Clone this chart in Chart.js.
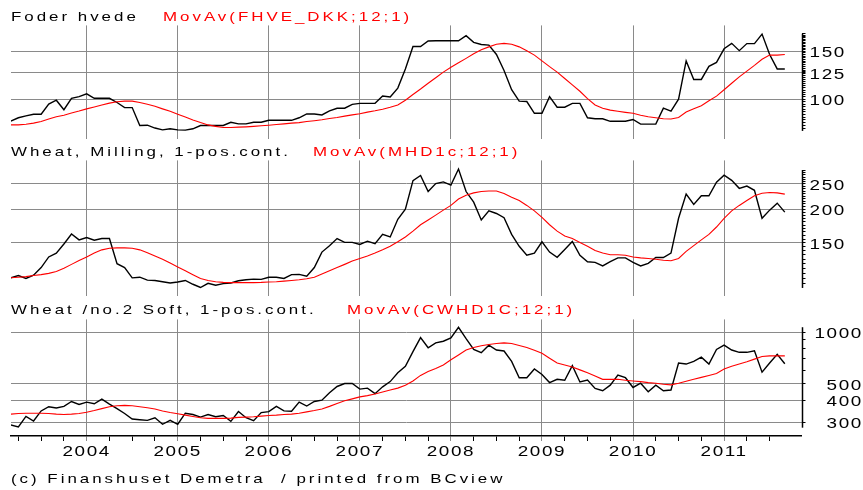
<!DOCTYPE html>
<html>
<head>
<meta charset="utf-8">
<script src="https://cdn.jsdelivr.net/npm/chart.js@4"></script>
<style>
  body { margin: 0; background: #fff; width: 863px; height: 490px; overflow: hidden; position: relative;
         font-family: "Liberation Sans", Arial, sans-serif; }
  .panel { position: absolute; left: 0; width: 863px; }
  .lbl { position: absolute; font-size: 13px; line-height: 13px; letter-spacing: 2.3px; white-space: pre; color: #000;
         z-index: 2; transform: scaleX(1.3); transform-origin: 0 0; }
  .red { color: #f00; }
</style>
</head>
<body>
<div class="panel" style="top:13px;height:138px"><canvas id="c1"></canvas></div>
<div class="panel" style="top:148px;height:160px"><canvas id="c2"></canvas></div>
<div class="panel" style="top:307px;height:183px"><canvas id="c3"></canvas></div>

<div class="lbl" style="left:11px;top:10px">Foder hvede</div>
<div class="lbl red" style="left:163px;top:10px">MovAv(FHVE_DKK;12;1)</div>
<div class="lbl" style="left:11px;top:145px">Wheat, Milling, 1-pos.cont.</div>
<div class="lbl red" style="left:313px;top:145px">MovAv(MHD1c;12;1)</div>
<div class="lbl" style="left:11px;top:303px">Wheat /no.2 Soft, 1-pos.cont.</div>
<div class="lbl red" style="left:347px;top:303px">MovAv(CWHD1C;12;1)</div>
<div class="lbl" style="left:11px;top:472px">(c) Finanshuset Demetra  / printed from BCview</div>

<script>
  // monthly points, Mar 2003 .. Sep 2011
  const months = [];
  for (let i = 0; i < 103; i++) {
      const m = 2 + i;
      months.push((2003 + Math.floor(m / 12)) + '-' + String(m % 12 + 1).padStart(2, '0'));
  }

  const foderHvede = [
      83.2, 85.5, 86.9, 88.1, 88.1, 96.0, 99.2, 91.5, 100.8, 102.2,
      104.7, 100.8, 100.8, 100.8, 97.3, 93.2, 93.2, 80.1, 80.3, 78.4,
      77.2, 77.9, 77.2, 77.0, 77.9, 80.1, 80.1, 80.1, 80.1, 82.3,
      81.2, 81.2, 82.3, 82.3, 83.7, 83.7, 83.7, 83.7, 85.5, 88.3,
      88.3, 87.6, 90.7, 92.7, 92.7, 95.8, 96.6, 96.6, 96.6, 102.7,
      101.9, 109.9, 129.2, 156.2, 156.2, 163.6, 164.0, 164.0, 164.0, 164.0,
      171.2, 161.8, 158.8, 158.0, 146.0, 127.6, 108.4, 98.4, 98.1, 88.8,
      88.8, 102.2, 93.5, 93.5, 96.6, 96.6, 85.5, 84.8, 84.8, 83.0,
      83.0, 83.0, 84.3, 81.0, 81.0, 81.0, 92.7, 90.5, 100.0, 138.3,
      118.2, 118.2, 132.1, 136.5, 153.2, 160.4, 150.8, 160.1, 160.1, 173.5,
      146.0, 129.2, 129.2
  ];
  const foderMovAv = [
      80.5, 80.5, 81.0, 81.7, 82.8, 84.6, 86.2, 87.4, 89.0, 90.5,
      92.2, 93.7, 95.3, 96.8, 97.9, 98.4, 98.4, 97.3, 95.8, 94.2,
      92.2, 90.3, 88.1, 86.0, 83.9, 82.1, 80.5, 79.5, 78.8, 78.8,
      79.0, 79.2, 79.5, 79.9, 80.3, 80.8, 81.2, 81.7, 82.1, 82.8,
      83.4, 84.1, 85.0, 85.7, 86.7, 87.6, 88.5, 89.7, 90.7, 91.9,
      93.5, 95.3, 99.2, 104.1, 109.0, 114.5, 120.0, 125.8, 131.0, 136.1,
      141.3, 146.8, 152.0, 155.7, 159.2, 160.4, 159.2, 155.7, 150.8, 145.2,
      138.3, 131.7, 125.8, 119.2, 112.9, 107.0, 100.5, 95.3, 92.7, 91.2,
      90.3, 89.5, 88.8, 87.4, 86.2, 85.5, 84.8, 84.6, 85.7, 89.7,
      92.2, 94.7, 98.7, 102.7, 108.4, 114.5, 120.8, 126.9, 133.2, 140.2,
      145.2, 145.2, 146.0
  ];
  const millingWheat = [
      110.7, 112.9, 110.1, 113.2, 121.0, 132.7, 137.2, 148.4, 161.8, 153.8,
      156.9, 153.4, 155.6, 155.6, 125.1, 121.0, 110.7, 111.3, 108.5, 108.2,
      107.0, 105.9, 106.8, 108.2, 104.7, 101.8, 105.6, 103.8, 105.3, 105.9,
      107.9, 108.9, 109.5, 109.2, 111.3, 111.3, 110.1, 113.8, 114.1, 112.2,
      121.0, 138.4, 146.3, 155.6, 150.5, 150.5, 147.9, 152.1, 148.8, 161.3,
      157.8, 183.9, 200.6, 257.1, 268.8, 233.9, 250.7, 254.3, 247.2, 284.3,
      233.9, 213.3, 182.9, 197.8, 193.4, 186.5, 161.3, 145.5, 134.6, 137.2,
      151.3, 138.4, 132.3, 141.5, 151.7, 134.6, 127.3, 126.6, 122.7, 127.3,
      131.6, 131.6, 126.6, 122.7, 125.5, 132.0, 132.0, 137.2, 185.5, 228.7,
      209.1, 225.5, 225.5, 253.5, 269.6, 257.8, 240.5, 245.2, 236.5, 185.5,
      199.1, 211.5, 195.6
  ];
  const millingMovAv = [
      110.7, 111.3, 111.9, 112.9, 113.8, 115.1, 117.0, 120.3, 124.4, 128.7,
      132.7, 137.2, 141.1, 143.1, 143.5, 143.5, 143.1, 141.1, 137.6, 133.8,
      130.1, 125.8, 121.7, 117.7, 113.8, 110.1, 108.2, 107.0, 106.4, 106.2,
      106.2, 106.2, 106.2, 106.4, 106.8, 107.0, 107.6, 108.2, 108.9, 109.8,
      111.3, 114.4, 117.7, 121.0, 124.4, 128.0, 130.9, 133.8, 137.2, 141.1,
      145.5, 151.3, 157.8, 165.9, 175.4, 182.9, 190.7, 199.1, 207.4, 219.3,
      226.7, 231.2, 233.9, 235.1, 235.1, 229.9, 222.4, 216.3, 207.4, 197.8,
      187.0, 175.4, 165.9, 159.1, 155.6, 150.5, 145.5, 140.3, 137.2, 135.3,
      135.3, 134.6, 132.7, 131.6, 130.9, 130.1, 129.0, 128.3, 130.9, 139.2,
      146.3, 153.8, 161.3, 172.0, 185.5, 197.8, 207.4, 216.3, 225.5, 230.6,
      231.9, 231.2, 228.7
  ];
  const softWheat = [
      288.5, 281.1, 323.2, 304.1, 348.0, 368.3, 361.9, 369.9, 394.9, 379.8,
      391.6, 383.1, 407.3, 381.5, 358.8, 336.1, 312.1, 309.4, 306.7, 317.6,
      291.1, 306.7, 291.1, 337.6, 331.8, 320.4, 331.8, 321.8, 327.5, 302.8,
      345.0, 317.6, 305.4, 340.5, 345.0, 369.9, 348.0, 346.5, 391.6, 371.5,
      394.9, 401.9, 444.4, 482.8, 502.2, 502.2, 466.2, 472.3, 438.5, 480.7,
      515.5, 579.9, 632.7, 769.8, 928.6, 811.1, 866.0, 885.1, 924.5, 1067.6,
      916.5, 793.6, 759.8, 840.0, 786.7, 776.5, 675.6, 543.1, 543.1, 610.9,
      567.4, 508.6, 531.4, 524.5, 638.3, 513.1, 526.8, 470.3, 456.2, 491.3,
      562.3, 543.1, 476.4, 504.3, 450.2, 491.3, 456.2, 460.2, 660.7, 652.1,
      675.6, 714.9, 652.1, 793.6, 840.0, 786.7, 763.1, 763.1, 779.8, 584.8,
      660.7, 743.4, 654.9
  ];
  const softMovAv = [
      333.3, 336.1, 337.6, 337.6, 337.6, 336.1, 333.3, 331.8, 333.3, 336.1,
      342.0, 349.6, 358.8, 368.3, 373.2, 374.8, 373.2, 368.3, 363.5, 357.3,
      348.0, 340.5, 334.7, 328.9, 323.2, 317.6, 314.9, 314.9, 314.9, 316.2,
      319.0, 320.4, 321.8, 324.6, 327.5, 328.9, 331.8, 333.3, 337.6, 343.6,
      349.6, 357.3, 369.9, 384.7, 398.4, 409.0, 419.9, 427.3, 436.7, 448.2,
      460.2, 472.3, 491.3, 520.0, 560.0, 590.0, 613.7, 643.9, 690.2, 736.8,
      786.7, 814.6, 832.9, 847.4, 858.4, 866.0, 858.4, 836.3, 814.6, 783.4,
      753.3, 705.5, 660.7, 643.9, 627.1, 603.1, 579.9, 555.1, 531.4, 531.4,
      531.4, 524.5, 520.0, 515.5, 508.6, 504.3, 497.7, 493.4, 504.3, 517.7,
      531.4, 545.4, 560.0, 574.8, 610.9, 632.7, 652.1, 672.7, 696.4, 721.1,
      727.4, 727.4, 727.4
  ];

  // axis labels and tick values
  const yearTicks = [2004, 2005, 2006, 2007, 2008, 2009, 2010, 2011];
  const quarterTicks = [];
  for (let q = 2003.25; q <= 2011.5; q += 0.25) quarterTicks.push(q);

  const foderLabels = [100, 125, 150];
  const millingLabels = [150, 200, 250];
  const softLabels = [300, 400, 500, 1000];

  const stepTicks = (from, to, step, extra) => {
      const out = new Set(extra || []);
      for (let v = from; v <= to + 1e-9; v += step) out.add(Math.round(v * 10) / 10);
      return [...out].sort((a, b) => a - b);
  };

  const GRID = '#8a8a8a';
  const FONT = { family: '"Liberation Sans", Arial, sans-serif', size: 14 };
  const WIDEN = 1.35;   // the original font is a stretched sans
  const toX = s => +s.slice(0, 4) + (+s.slice(5) - 1) / 12;

  const textAndAxis = {
      id: 'textAndAxis',
      beforeLayout(chart) { chart.ctx.letterSpacing = '1.2px'; },
      beforeDraw(chart) {
          const ctx = chart.ctx;
          ctx.letterSpacing = '1.2px';
          if (!ctx._wide) {
              const fill = ctx.fillText.bind(ctx);
              ctx.fillText = function (t, x, y) {
                  this.save();
                  this.translate(x, y);
                  this.scale(WIDEN, 1);
                  fill(t, 0, 0);
                  this.restore();
              };
              ctx._wide = true;
          }
      },
      afterDraw(chart, args, opts) {
          const y = chart.scales.y;
          const ctx = chart.ctx;
          ctx.save();
          ctx.strokeStyle = '#000';
          ctx.lineWidth = 1.5;
          ctx.beginPath();
          const x = Math.round(y.left) + 0.5;
          ctx.moveTo(x, y.getPixelForValue(opts.top));
          ctx.lineTo(x, y.getPixelForValue(opts.bottom));
          ctx.stroke();
          ctx.restore();
      }
  };

  const makePanel = (id, black, red, cfg) => {
      const bottom = !!cfg.bottom;
      const pts = arr => arr.map((v, i) => ({ x: toX(months[i]), y: v }));
      return new Chart(document.getElementById(id).getContext('2d'), {
          type: 'line',
          data: {
              datasets: [
                  { data: pts(red), borderColor: '#ff0000', borderWidth: 1.1, pointRadius: 0, tension: 0 },
                  { data: pts(black), borderColor: '#000000', borderWidth: 1.4, pointRadius: 0, tension: 0 }
              ]
          },
          options: {
              responsive: true,
              maintainAspectRatio: false,
              animation: false,
              layout: { padding: { left: 11, right: 0, top: 10, bottom: bottom ? 24 : 10 } },
              plugins: {
                  legend: { display: false },
                  tooltip: { enabled: false },
                  textAndAxis: { top: cfg.axisTop, bottom: cfg.axisBottom }
              },
              scales: {
                  x: {
                      type: 'linear',
                      min: 2003.169,
                      max: 2011.85,
                      afterBuildTicks: s => { s.ticks = (bottom ? quarterTicks : yearTicks).map(v => ({ value: v })); },
                      afterFit: s => { s.height = bottom ? 30 : 0; },
                      ticks: {
                          display: bottom,
                          autoSkip: false,
                          maxRotation: 0,
                          padding: 3,
                          color: '#000',
                          font: FONT,
                          callback: v => Number.isInteger(v) ? String(v) : ''
                      },
                      grid: {
                          color: c => Number.isInteger(c.tick.value) ? GRID : 'rgba(0,0,0,0)',
                          tickColor: c => Number.isInteger(c.tick.value) ? GRID : '#000',
                          drawTicks: bottom,
                          tickLength: 5,
                          lineWidth: 1
                      },
                      border: { display: bottom, color: '#000', width: 1.5 }
                  },
                  y: {
                      type: 'logarithmic',
                      position: 'right',
                      min: cfg.min,
                      max: cfg.max,
                      afterBuildTicks: s => { s.ticks = cfg.ticks.map(v => ({ value: v })); },
                      afterFit: s => { s.width = 61.5; },
                      ticks: {
                          autoSkip: false,
                          padding: 4,
                          labelOffset: 2,
                          color: '#000',
                          font: FONT,
                          crossAlign: cfg.far ? 'far' : 'near',
                          callback: v => cfg.labels.includes(v) ? String(v) : ''
                      },
                      grid: {
                          color: c => cfg.labels.includes(c.tick.value) ? GRID : 'rgba(0,0,0,0)',
                          tickColor: '#000',
                          tickLength: 4,
                          lineWidth: 1
                      },
                      border: { display: false }
                  }
              }
          },
          plugins: [textAndAxis]
      });
  };

  document.addEventListener('DOMContentLoaded', () => {
      makePanel('c1', foderHvede, foderMovAv, {
          min: 71.7, max: 186.7, axisTop: 174, axisBottom: 76.5,
          ticks: stepTicks(78, 174, 2, [125]),
          labels: foderLabels
      });
      makePanel('c2', millingWheat, millingMovAv, {
          min: 94.9, max: 306.4, axisTop: 282, axisBottom: 101.4,
          ticks: stepTicks(105, 280, 5),
          labels: millingLabels
      });
      makePanel('c3', softWheat, softMovAv, {
          min: 248.7, max: 1186, axisTop: 1068, axisBottom: 278,
          ticks: [300, 400, 500, 600, 700, 800, 900, 1000],
          labels: softLabels, far: true, bottom: true
      });
  });
</script>
</body>
</html>
